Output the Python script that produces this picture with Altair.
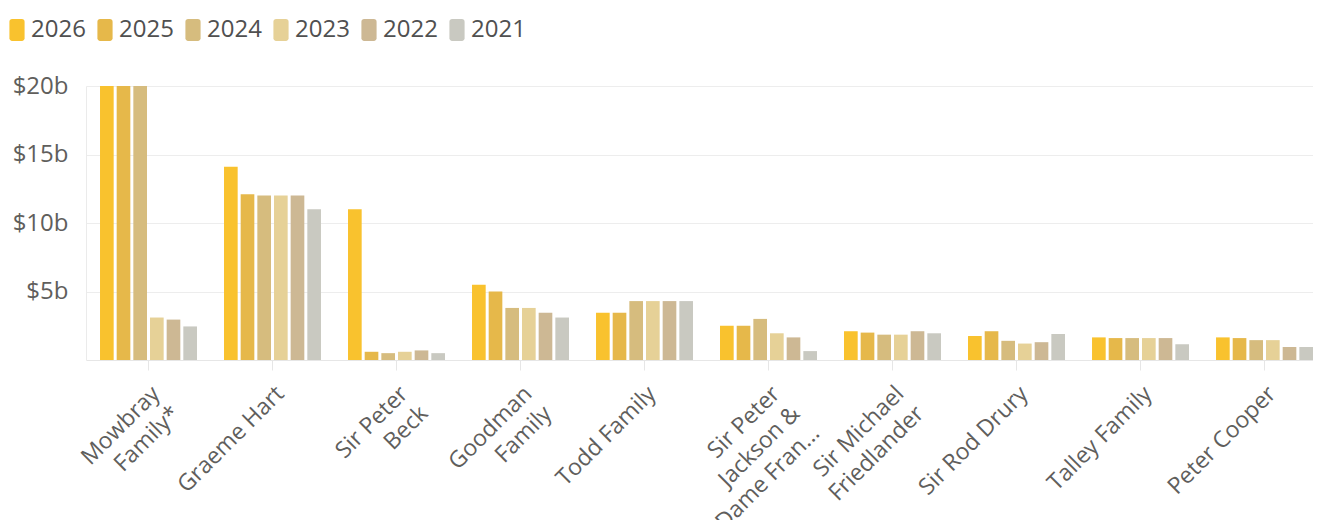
import altair as alt
import pandas as pd

people = [
    "Mowbray\nFamily*",
    "Graeme Hart",
    "Sir Peter\nBeck",
    "Goodman\nFamily",
    "Todd Family",
    "Sir Peter\nJackson &\nDame Fran...",
    "Sir Michael\nFriedlander",
    "Sir Rod Drury",
    "Talley Family",
    "Peter Cooper",
]
years = ["2026", "2025", "2024", "2023", "2022", "2021"]
colors = ["#F9C22E", "#E6B84A", "#D6BC7E", "#E6D197", "#CDB894", "#C9C9C1"]

v2026 = [20, 14.1, 11.0, 5.5, 3.45, 2.5, 2.1, 1.75, 1.65, 1.65]
v2025 = [20, 12.1, 0.6, 5.0, 3.45, 2.5, 2.0, 2.1, 1.6, 1.6]
v2024 = [20, 12.0, 0.5, 3.8, 4.3, 3.0, 1.85, 1.4, 1.6, 1.45]
v2023 = [3.1, 12.0, 0.6, 3.8, 4.3, 1.95, 1.85, 1.2, 1.6, 1.45]
v2022 = [2.95, 12.0, 0.7, 3.45, 4.3, 1.65, 2.1, 1.3, 1.6, 0.95]
v2021 = [2.45, 11.0, 0.5, 3.1, 4.3, 0.65, 1.95, 1.9, 1.15, 0.95]
series = [v2026, v2025, v2024, v2023, v2022, v2021]

rows = []
for y, vals in zip(years, series):
    for p, v in zip(people, vals):
        rows.append({"person": p, "year": y, "value": v})
df = pd.DataFrame(rows)

FONT = "Open Sans"
legend_shape = ("M-0.45,-1 h0.9 a0.24,0.24 0 0 1 0.24,0.24 v1.52 a0.24,0.24 0 0 1 -0.24,0.24 "
                "h-0.9 a0.24,0.24 0 0 1 -0.24,-0.24 v-1.52 a0.24,0.24 0 0 1 0.24,-0.24 Z")

chart = alt.Chart(df).mark_bar().encode(
    x=alt.X(
        "person:N",
        sort=people,
        title=None,
        scale=alt.Scale(paddingInner=0.218, paddingOuter=0.0565, align=1),
        axis=alt.Axis(
            labelAngle=-45,
            labelAlign="right",
            labelBaseline="top",
            labelExpr="split(datum.label, '\\n')",
            labelFont=FONT,
            labelFontSize=23,
            labelLineHeight=28,
            labelColor="#605E5C",
            labelPadding=12,
            labelLimit=300,
            ticks=True,
            tickSize=10,
            tickColor="#E6E6E6",
            domainColor="#E6E6E6",
            grid=False,
        ),
    ),
    xOffset=alt.XOffset("year:N", sort=years, scale=alt.Scale(paddingInner=0.18, paddingOuter=0)),
    y=alt.Y(
        "value:Q",
        title=None,
        scale=alt.Scale(domain=[0, 20], nice=False),
        axis=alt.Axis(
            values=[5, 10, 15, 20],
            labelExpr="'$' + datum.value + 'b'",
            labelFont=FONT,
            labelFontSize=24,
            labelColor="#605E5C",
            labelPadding=18,
            ticks=False,
            domainColor="#EBEBEB",
            gridColor="#EDEDED",
        ),
    ),
    color=alt.Color(
        "year:N",
        sort=years,
        scale=alt.Scale(domain=years, range=colors),
        legend=alt.Legend(
            title=None,
            orient="none",
            direction="horizontal",
            legendX=-81,
            legendY=-68,
            symbolType=legend_shape,
            symbolSize=484,
            symbolStrokeWidth=0,
            symbolOpacity=1,
            labelFont=FONT,
            labelFontSize=24,
            labelColor="#505050",
            labelOffset=2,
            columnPadding=7,
        ),
    ),
).properties(
    width=1227,
    height=274,
    padding={"left": 78, "top": 78, "right": 0, "bottom": 160},
    autosize="none",
).configure_view(stroke=None)

chart.save("out.html", embed_options={"renderer": "svg", "actions": False})
